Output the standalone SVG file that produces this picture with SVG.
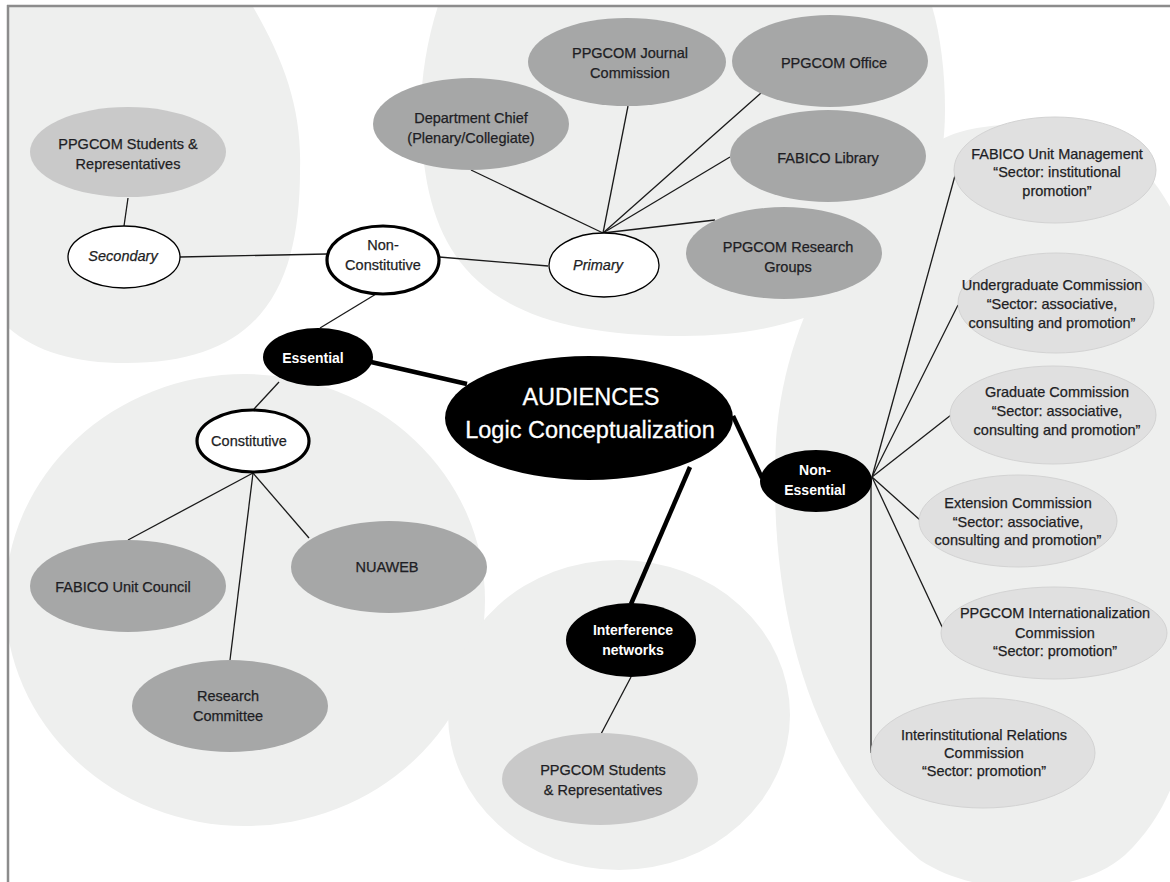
<svg xmlns="http://www.w3.org/2000/svg" width="1170" height="882" viewBox="0 0 1170 882">
<defs>
<clipPath id="area"><rect x="8" y="6" width="1170" height="880"/></clipPath>
<style>
.blob{fill:#eeefee}
.dk{fill:#a6a7a7}
.lt{fill:#c9c9c9}
.rt{fill:#e0e0e0;stroke:#d3d3d3;stroke-width:1}
.blk{fill:#000}
.wt{fill:#fff;stroke:#000;stroke-width:1.3}
.wtb{fill:#fff;stroke:#000;stroke-width:3.2}
.t{font-family:"Liberation Sans",Arial,sans-serif;font-size:14.5px;fill:#1e1e24;stroke:#1e1e24;stroke-width:0.25;text-anchor:middle}
.i{font-style:italic}
.w{fill:#fff;stroke:none;font-weight:bold;font-size:14px}
.big{fill:#fff;stroke:#fff;stroke-width:0.3;font-size:23.5px}
.ln{stroke:#1a1a1a;stroke-width:1.3;fill:none}
.th{stroke:#000;stroke-width:4.5;fill:none}
.frame{stroke:#8c8c8c;stroke-width:2.5;fill:none}
</style>
</defs>
<rect width="1170" height="882" fill="#fff"/>
<g clip-path="url(#area)">
<g id="backgrounds">
<path class="blob" d="M249,0 C285,60 302,110 300,170 C300,300 250,363 126,363 C70,363 30,350 0,320 L0,0 Z"/>
<path class="blob" d="M440,0 C428,35 421,75 421,110 C421,260 480,336 683,336 C865,336 945,240 945,110 C945,70 940,30 930,0 Z"/>
<path class="blob" d="M1050,123 C1000,123 960,128 941,140 C870,185 785,300 776,440 C768,600 805,760 920,860 C980,900 1080,895 1125,855 C1160,822 1178,780 1185,740 L1185,240 C1160,170 1105,123 1050,123 Z"/>
<ellipse class="blob" cx="245" cy="600" rx="240" ry="226"/>
<ellipse class="blob" cx="619" cy="715" rx="171" ry="155"/>
</g>
<g id="connectors">
<line class="th" x1="371" y1="362" x2="467" y2="384"/>
<line class="th" x1="733" y1="416" x2="762" y2="478"/>
<line class="th" x1="690" y1="467" x2="631" y2="604"/>
<line class="ln" x1="320" y1="328" x2="381" y2="291"/>
<line class="ln" x1="279" y1="382" x2="254" y2="409"/>
<line class="ln" x1="327" y1="254" x2="180" y2="257"/>
<line class="ln" x1="124" y1="226" x2="128" y2="198"/>
<line class="ln" x1="439" y1="257" x2="548" y2="266"/>
<line class="ln" x1="603" y1="233" x2="471" y2="170"/>
<line class="ln" x1="603" y1="233" x2="628" y2="106"/>
<line class="ln" x1="603" y1="233" x2="761" y2="93"/>
<line class="ln" x1="603" y1="233" x2="730" y2="157"/>
<line class="ln" x1="603" y1="233" x2="715" y2="220"/>
<line class="ln" x1="253" y1="473" x2="128" y2="540"/>
<line class="ln" x1="253" y1="473" x2="230" y2="660"/>
<line class="ln" x1="253" y1="473" x2="309" y2="538"/>
<line class="ln" x1="631" y1="677" x2="601" y2="734"/>
<line class="ln" x1="872" y1="477" x2="956" y2="172"/>
<line class="ln" x1="872" y1="477" x2="958" y2="305"/>
<line class="ln" x1="872" y1="477" x2="951" y2="415"/>
<line class="ln" x1="872" y1="477" x2="920" y2="520"/>
<line class="ln" x1="872" y1="477" x2="944" y2="631"/>
<line class="ln" x1="871" y1="477" x2="871" y2="753"/>
</g>
<g id="n-students-top"><ellipse class="lt" cx="128" cy="152" rx="98" ry="45"/><text class="t" x="128" y="149">PPGCOM Students &amp;</text><text class="t" x="128" y="169">Representatives</text></g>
<g id="n-secondary"><ellipse class="wt" cx="124" cy="257" rx="56" ry="31"/><text class="t i" x="123" y="261">Secondary</text></g>
<g id="n-nonconstitutive"><ellipse class="wtb" cx="383" cy="260" rx="56" ry="34"/><text class="t" x="383" y="250">Non-</text><text class="t" x="383" y="270">Constitutive</text></g>
<g id="n-primary"><ellipse class="wt" cx="604" cy="265" rx="55" ry="32"/><text class="t i" x="598" y="270">Primary</text></g>
<g id="n-deptchief"><ellipse class="dk" cx="471" cy="124" rx="98" ry="46"/><text class="t" x="471" y="123">Department Chief</text><text class="t" x="471" y="143">(Plenary/Collegiate)</text></g>
<g id="n-journal"><ellipse class="dk" cx="627" cy="62" rx="99" ry="44"/><text class="t" x="630" y="58">PPGCOM Journal</text><text class="t" x="630" y="78">Commission</text></g>
<g id="n-office"><ellipse class="dk" cx="830" cy="61" rx="98" ry="46"/><text class="t" x="834" y="68">PPGCOM Office</text></g>
<g id="n-library"><ellipse class="dk" cx="828" cy="156" rx="98" ry="46"/><text class="t" x="828" y="163">FABICO Library</text></g>
<g id="n-researchgroups"><ellipse class="dk" cx="784" cy="253" rx="98" ry="46"/><text class="t" x="788" y="252">PPGCOM Research</text><text class="t" x="788" y="272">Groups</text></g>
<g id="n-audiences"><ellipse class="blk" cx="589" cy="418" rx="144" ry="62"/><text class="t big" x="591" y="405">AUDIENCES</text><text class="t big" x="590" y="438">Logic Conceptualization</text></g>
<g id="n-essential"><ellipse class="blk" cx="318" cy="357" rx="55" ry="29"/><text class="t w" x="313" y="363">Essential</text></g>
<g id="n-constitutive"><ellipse class="wtb" cx="253" cy="441" rx="56" ry="31"/><text class="t" x="249" y="446">Constitutive</text></g>
<g id="n-fabicocouncil"><ellipse class="dk" cx="128" cy="586" rx="98" ry="46"/><text class="t" x="123" y="592">FABICO Unit Council</text></g>
<g id="n-nuaweb"><ellipse class="dk" cx="389" cy="567" rx="98" ry="46"/><text class="t" x="387" y="572">NUAWEB</text></g>
<g id="n-researchcommittee"><ellipse class="dk" cx="230" cy="706" rx="98" ry="46"/><text class="t" x="228" y="701">Research</text><text class="t" x="228" y="721">Committee</text></g>
<g id="n-interference"><ellipse class="blk" cx="631" cy="640" rx="65" ry="37"/><text class="t w" x="633" y="635">Interference</text><text class="t w" x="633" y="655">networks</text></g>
<g id="n-students-bottom"><ellipse class="lt" cx="600" cy="779" rx="98" ry="46"/><text class="t" x="603" y="775">PPGCOM Students</text><text class="t" x="603" y="795">&amp; Representatives</text></g>
<g id="n-nonessential"><ellipse class="blk" cx="816" cy="481" rx="56" ry="31"/><text class="t w" x="815" y="475">Non-</text><text class="t w" x="815" y="495">Essential</text></g>
<g id="n-management"><ellipse class="rt" cx="1055" cy="170" rx="101" ry="53"/><text class="t" x="1057" y="159">FABICO Unit Management</text><text class="t" x="1057" y="177">“Sector: institutional</text><text class="t" x="1057" y="196">promotion”</text></g>
<g id="n-undergrad"><ellipse class="rt" cx="1056" cy="303" rx="98" ry="50"/><text class="t" x="1052" y="290">Undergraduate Commission</text><text class="t" x="1052" y="309">“Sector: associative,</text><text class="t" x="1052" y="328">consulting and promotion”</text></g>
<g id="n-graduate"><ellipse class="rt" cx="1053" cy="415" rx="103" ry="49"/><text class="t" x="1057" y="397">Graduate Commission</text><text class="t" x="1057" y="416">“Sector: associative,</text><text class="t" x="1057" y="435">consulting and promotion”</text></g>
<g id="n-extension"><ellipse class="rt" cx="1018" cy="521" rx="99" ry="46"/><text class="t" x="1018" y="508">Extension Commission</text><text class="t" x="1018" y="527">“Sector: associative,</text><text class="t" x="1018" y="545">consulting and promotion”</text></g>
<g id="n-international"><ellipse class="rt" cx="1054" cy="633" rx="113" ry="46"/><text class="t" x="1055" y="618">PPGCOM Internationalization</text><text class="t" x="1055" y="638">Commission</text><text class="t" x="1055" y="656">“Sector: promotion”</text></g>
<g id="n-interinstitutional"><ellipse class="rt" cx="983" cy="753" rx="112" ry="55"/><text class="t" x="984" y="740">Interinstitutional Relations</text><text class="t" x="984" y="758">Commission</text><text class="t" x="984" y="776">“Sector: promotion”</text></g>
</g>
<g id="frame">
<line class="frame" x1="7" y1="6" x2="1170" y2="6"/>
<line class="frame" x1="8" y1="5" x2="8" y2="882"/>
</g>
</svg>
